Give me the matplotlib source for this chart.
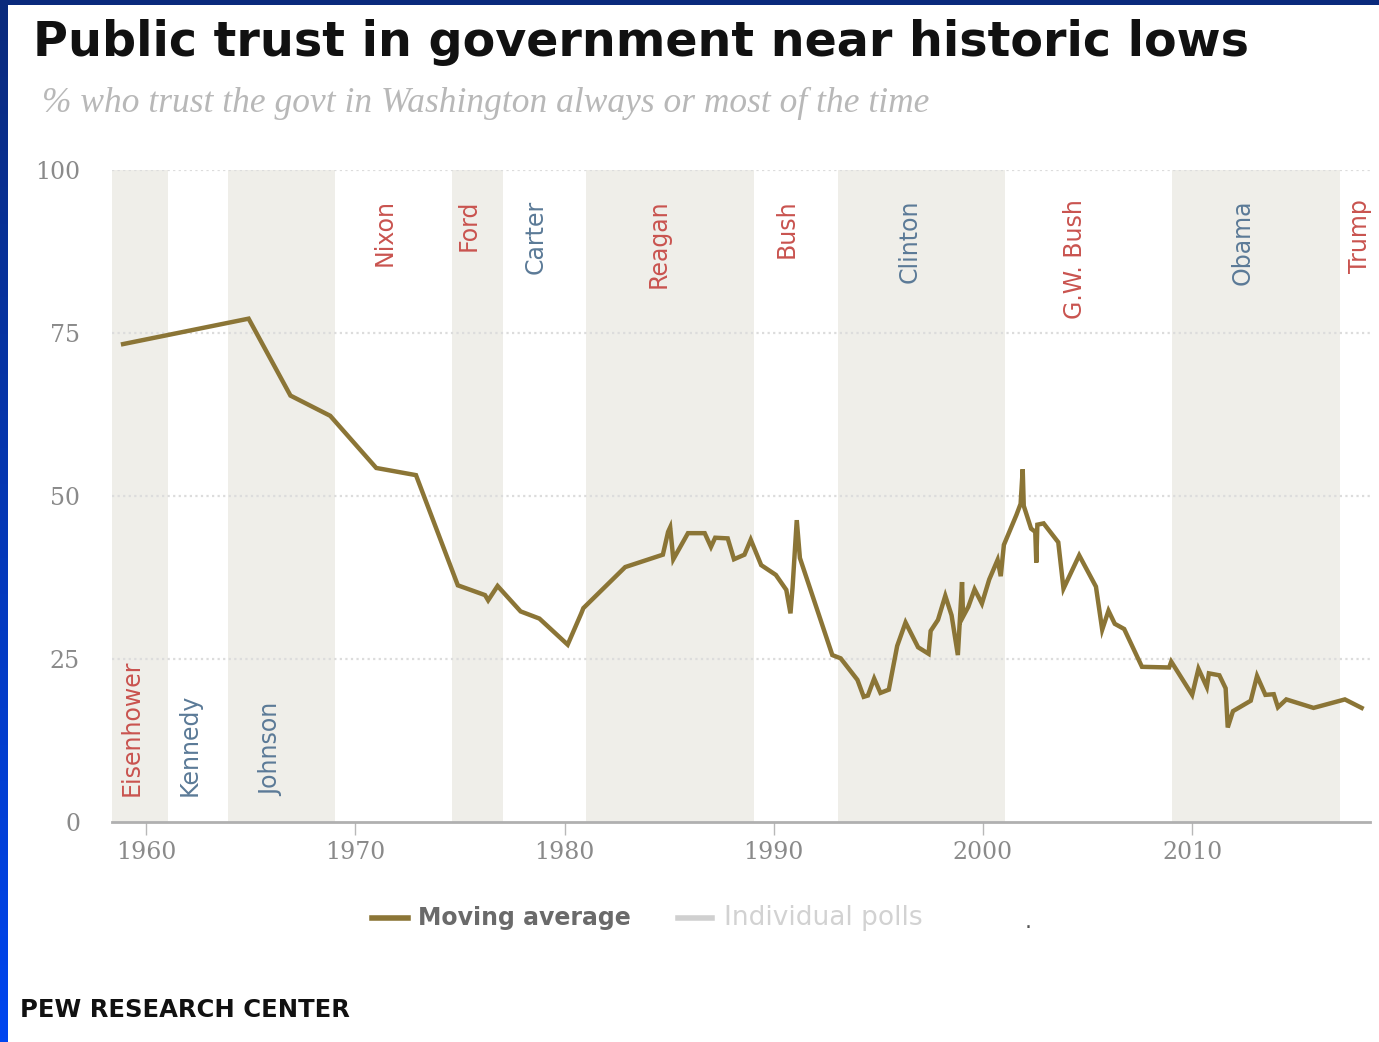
import numpy as np
import matplotlib
matplotlib.use("Agg")
import matplotlib.pyplot as plt
from matplotlib.lines import Line2D
from matplotlib.patches import Rectangle

# moving average of trust in government (% always / most of the time)
years = [1958.9, 1964.9, 1966.9, 1968.8, 1971.0, 1972.9, 1974.9, 1976.2, 1976.35, 1976.8,
         1977.9, 1978.8, 1980.15, 1980.8, 1980.9, 1982.9, 1984.7, 1984.95, 1985.05, 1985.2,
         1985.9, 1986.7, 1987.0, 1987.2, 1987.8, 1988.1, 1988.6, 1988.9, 1989.4, 1990.1,
         1990.6, 1990.8, 1990.9, 1991.1, 1991.25, 1992.8, 1993.2, 1994.0, 1994.3, 1994.5,
         1994.8, 1995.1, 1995.5, 1995.9, 1996.3, 1996.9, 1997.4, 1997.5, 1997.85, 1998.2,
         1998.5, 1998.8, 1999.0, 1999.05, 1999.3, 1999.6, 1999.95, 2000.3, 2000.7, 2000.85,
         2001.0, 2001.6, 2001.8, 2001.9, 2001.95, 2002.3, 2002.5, 2002.55, 2002.6, 2002.9,
         2003.6, 2003.85, 2004.6, 2005.4, 2005.7, 2006.0, 2006.3, 2006.75, 2007.6, 2008.9,
         2009.0, 2010.0, 2010.3, 2010.7, 2010.8, 2011.3, 2011.6, 2011.7, 2011.95, 2012.8,
         2013.1, 2013.5, 2013.9, 2014.1, 2014.5, 2015.8, 2017.3, 2018.1]
trust = [73.3, 77.2, 65.4, 62.3, 54.3, 53.2, 36.3, 34.8, 34.0, 36.2,
         32.3, 31.2, 27.2, 32.0, 32.8, 39.1, 41.0, 44.5, 45.2, 40.3,
         44.3, 44.3, 42.2, 43.6, 43.5, 40.3, 41.0, 43.3, 39.4, 37.9,
         35.6, 32.0, 36.0, 46.3, 40.5, 25.6, 25.1, 21.8, 19.2, 19.4,
         22.0, 19.8, 20.3, 27.0, 30.6, 26.8, 25.8, 29.3, 31.0, 34.7,
         31.7, 25.6, 36.8, 31.5, 33.0, 35.7, 33.5, 37.2, 40.2, 37.7,
         42.5, 47.1, 48.8, 54.1, 48.5, 45.0, 44.5, 39.8, 45.6, 45.8,
         42.9, 35.8, 40.9, 36.1, 29.5, 32.4, 30.4, 29.6, 23.8, 23.7,
         24.6, 19.5, 23.5, 20.7, 22.8, 22.5, 20.5, 14.5, 17.0, 18.6,
         22.4, 19.5, 19.6, 17.6, 18.8, 17.5, 18.8, 17.5]

presidents = ["Eisenhower", "Kennedy", "Johnson", "Nixon", "Ford", "Carter", "Reagan",
              "Bush", "Clinton", "G.W. Bush", "Obama", "Trump"]
term_start = [1953, 1961.05, 1963.9, 1969.05, 1974.6, 1977.05, 1981.05, 1989.05,
              1993.05, 2001.05, 2009.05, 2017.05]
term_end = [1961.05, 1963.9, 1969.05, 1974.6, 1977.05, 1981.05, 1989.05, 1993.05,
            2001.05, 2009.05, 2017.05, 2030]
party = ["R", "D", "D", "R", "R", "D", "R", "R", "D", "R", "D", "R"]
label_x = [1959.3, 1962.1, 1966.0, 1971.4, 1975.4, 1978.6, 1984.5, 1990.6,
           1996.5, 2004.4, 2012.4, 2018.0]

red = "#c9534f"
blue = "#5b7a97"
gold = "#8b7536"
shade = "#efeee9"

fig = plt.figure(figsize=(13.79, 10.42), dpi=100)
fig.patch.set_facecolor("white")

ax = fig.add_axes([112 / 1379, 220 / 1042, 1258 / 1379, 652 / 1042])
ax.set_xlim(1958.37, 2018.5)
ax.set_ylim(0, 100)

# shaded bands for every other administration
for i, (s, e) in enumerate(zip(term_start, term_end)):
    if i % 2 == 0 and i != 11:
        ax.axvspan(s, e, color=shade, lw=0, zorder=0)

for y in [25, 50, 75, 100]:
    ax.axhline(y, color="#dcdcdc", lw=1.6, ls=(0, (1, 1.5)), zorder=1)

for name, x, p in zip(presidents, label_x, party):
    c = red if p == "R" else blue
    if name in ("Eisenhower", "Kennedy", "Johnson"):
        ax.text(x, 4, name, rotation=90, ha="center", va="bottom", color=c, fontsize=17)
    else:
        ax.text(x, 95.5, name, rotation=90, ha="center", va="top", color=c, fontsize=17)

ax.plot(years, trust, color=gold, lw=3.2, solid_joinstyle="miter", zorder=3)

for sp in ["top", "right", "left"]:
    ax.spines[sp].set_visible(False)
ax.spines["bottom"].set_color("#b0b0b0")
ax.spines["bottom"].set_linewidth(2)
ax.set_xticks([1960, 1970, 1980, 1990, 2000, 2010])
ax.set_yticks([0, 25, 50, 75, 100])
ax.tick_params(axis="x", colors="#b8b8b8", length=9, width=1, labelcolor="#8a8a8a",
               labelsize=17, pad=5)
ax.tick_params(axis="y", length=0, labelcolor="#8a8a8a", labelsize=17, pad=23)
for lab in ax.get_xticklabels() + ax.get_yticklabels():
    lab.set_family("DejaVu Serif")
ax.patch.set_alpha(0)

# title block
fig.text(33 / 1379, 1 - 43 / 1042, "Public trust in government near historic lows",
         fontsize=34.3, fontweight="bold", color="#111111", va="center", ha="left")
fig.text(42 / 1379, 1 - 103 / 1042,
         "% who trust the govt in Washington always or most of the time",
         fontsize=25.5, style="italic", family="Liberation Serif", color="#b8b8b8",
         va="center", ha="left")

# legend
ly = 1 - 918 / 1042
fig.add_artist(Line2D([372 / 1379, 408 / 1379], [ly, ly], color=gold, lw=4))
fig.text(418 / 1379, ly, "Moving average", fontsize=17, fontweight="bold",
         color="#6a6a6a", va="center")
fig.add_artist(Line2D([678 / 1379, 712 / 1379], [ly, ly], color="#d0d0d0", lw=4))
fig.text(724 / 1379, ly, "Individual polls", fontsize=19, color="#d2d2d2", va="center")
fig.text(1025 / 1379, ly - 0.004, ".", fontsize=16, color="#555555", va="center")

fig.text(20 / 1379, 1 - 1010 / 1042, "PEW RESEARCH CENTER", fontsize=17.5,
         fontweight="bold", color="#111111", va="center")

# blue frame on the left and top
grad = fig.add_axes([0, 0, 8 / 1379, 1])
grad.imshow(np.linspace(0, 1, 256).reshape(-1, 1), aspect="auto",
            cmap=matplotlib.colors.LinearSegmentedColormap.from_list(
                "b", ["#0a2a7c", "#0046f0"]), extent=[0, 1, 1, 0])
grad.axis("off")
fig.add_artist(Rectangle((0, 1 - 5 / 1042), 1, 5 / 1042, transform=fig.transFigure,
                         color="#0a2a7c", lw=0))

fig.savefig("out.png", dpi=100)
